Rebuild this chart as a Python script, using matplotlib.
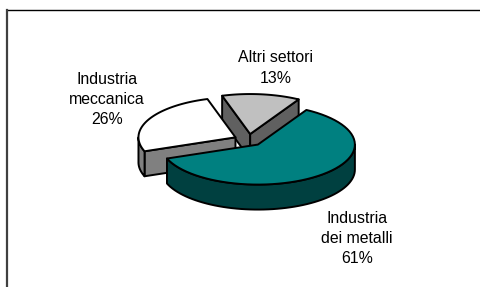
import numpy as np
import matplotlib.pyplot as plt
from matplotlib.patches import Polygon
from matplotlib.lines import Line2D

plt.rcParams['font.family'] = ['Liberation Sans', 'DejaVu Sans']

# data
labels = ['Industria\ndei metalli', 'Industria\nmeccanica', 'Altri settori']
values = [61, 26, 13]
top_colors = ['#008080', '#ffffff', '#c0c0c0']
side_colors = ['#004040', '#808080', '#606060']

# geometry of the fake 3d pie (pixels, y down)
cx, cy = 248.5, 140.0
rx, ry = 97.0, 40.0
depth = 25.0
explode = 0.15
start = 60.0

fig = plt.figure(figsize=(4.81, 2.87), dpi=100)
ax = fig.add_axes([0, 0, 1, 1])
ax.set_xlim(0, 481)
ax.set_ylim(287, 0)
ax.axis('off')

# frame
ax.add_line(Line2D([7, 481], [10, 10], color='black', lw=1.0))
ax.add_line(Line2D([7, 7], [10, 287], color='#404040', lw=1.6))


def pt(ox, oy, a, dz=0.0):
    r = np.radians(a)
    return ox + rx * np.cos(r), oy - ry * np.sin(r) + dz


def arc(ox, oy, a1, a2, dz=0.0, n=60):
    aa = np.linspace(a1, a2, n)
    return [pt(ox, oy, a, dz) for a in aa]


fracs = np.array(values) / sum(values)
angles = []
a = start
for f in fracs:
    angles.append((a, a - 360 * f))
    a -= 360 * f

ekw = dict(edgecolor='black', lw=1.4, joinstyle='round')

# back to front: altri, meccanica, metalli
for i in [2, 1, 0]:
    a2, a1 = angles[i]
    mid = np.radians((a1 + a2) / 2)
    ox = cx + explode * rx * np.cos(mid)
    oy = cy - explode * ry * np.sin(mid)
    # radial walls
    for ang, vis in [(a2, np.cos(np.radians(a2)) < 0), (a1, np.cos(np.radians(a1)) > 0)]:
        if vis:
            p = pt(ox, oy, ang)
            q = pt(ox, oy, ang, depth)
            ax.add_patch(Polygon([(ox, oy), p, q, (ox, oy + depth)],
                                 facecolor=side_colors[i], **ekw))
    # outer wall on the front half
    for lo, hi in [(-180, 0), (180, 360), (-540, -360)]:
        b1 = max(a1, lo)
        b2 = min(a2, hi)
        if b2 > b1:
            top = arc(ox, oy, b2, b1)
            bot = arc(ox, oy, b1, b2, depth)
            ax.add_patch(Polygon(top + bot, facecolor=side_colors[i], **ekw))
    # top face
    ax.add_patch(Polygon([(ox, oy)] + arc(ox, oy, a2, a1),
                         facecolor=top_colors[i], **ekw))

# labels
lbl_pos = [(357, 238.5), (107, 99.5), (276, 68)]
for i, (x, y) in enumerate(lbl_pos):
    ax.text(x, y, labels[i] + '\n%d%%' % values[i],
            ha='center', va='center', multialignment='center',
            fontsize=11.4, linespacing=1.45, color='black')

fig.savefig('out.png', dpi=100)
